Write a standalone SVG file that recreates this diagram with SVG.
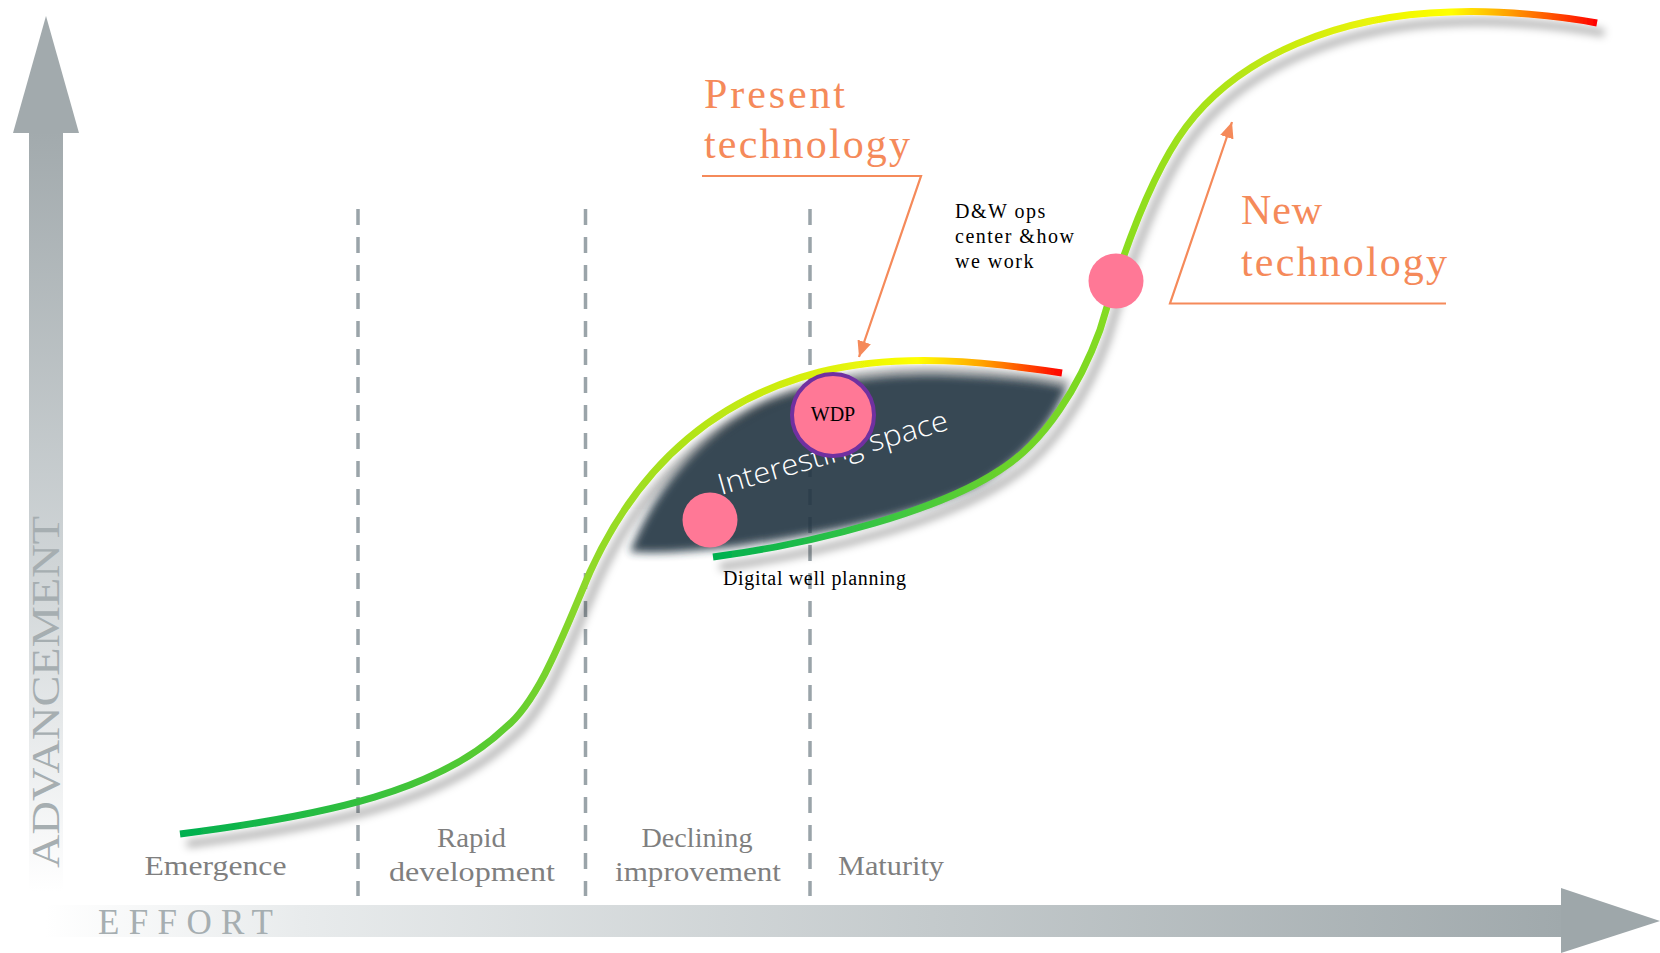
<svg xmlns="http://www.w3.org/2000/svg" width="1660" height="953" viewBox="0 0 1660 953">
<defs>
<style>
.phase{font-family:"Liberation Serif","Times New Roman",serif;font-size:28px;fill:#7f7f7f}
.axis{font-family:"Liberation Serif","Times New Roman",serif;fill:#a6aeb1}
.tech{font-family:"Liberation Serif","Times New Roman",serif;font-size:42px;fill:#f58a5a}
.note{font-family:"Liberation Serif","Times New Roman",serif;font-size:20px;fill:#000;letter-spacing:1.5px}
.dash{stroke:#9aa4a9;stroke-width:3.5;stroke-dasharray:16 12;fill:none}
.conn{stroke:#f58a5a;stroke-width:2.2;fill:none}
.dot{fill:#ff7896}
.curve{fill:none;stroke-width:7;filter:url(#sh)}
</style>
<linearGradient id="gh" gradientUnits="userSpaceOnUse" x1="45" y1="0" x2="1562" y2="0">
<stop offset="0" stop-color="#ffffff"/>
<stop offset="0.17" stop-color="#e8ebec"/>
<stop offset="1" stop-color="#a0a9ac"/>
</linearGradient>
<linearGradient id="gv" gradientUnits="userSpaceOnUse" x1="0" y1="132" x2="0" y2="892">
<stop offset="0" stop-color="#a2aaad"/>
<stop offset="0.6" stop-color="#d2d7d9"/>
<stop offset="1" stop-color="#ffffff"/>
</linearGradient>
<linearGradient id="g1" gradientUnits="userSpaceOnUse" x1="180" y1="0" x2="1063" y2="0">
<stop offset="0" stop-color="#00b050"/>
<stop offset="0.36" stop-color="#5ccc30"/>
<stop offset="0.46" stop-color="#8ed82a"/>
<stop offset="0.59" stop-color="#b5e515"/>
<stop offset="0.74" stop-color="#e0f20a"/>
<stop offset="0.835" stop-color="#ffff00"/>
<stop offset="0.91" stop-color="#ffa000"/>
<stop offset="1" stop-color="#ff0000"/>
</linearGradient>
<linearGradient id="g2" gradientUnits="userSpaceOnUse" x1="713" y1="0" x2="1597" y2="0">
<stop offset="0" stop-color="#00b050"/>
<stop offset="0.21" stop-color="#40c840"/>
<stop offset="0.33" stop-color="#6ad22a"/>
<stop offset="0.46" stop-color="#88dc20"/>
<stop offset="0.58" stop-color="#b0e418"/>
<stop offset="0.73" stop-color="#e6f208"/>
<stop offset="0.835" stop-color="#ffff00"/>
<stop offset="0.9" stop-color="#ffa000"/>
<stop offset="1" stop-color="#ff0000"/>
</linearGradient>
<filter id="sh" x="-10%" y="-10%" width="130%" height="140%">
<feDropShadow dx="7" dy="10" stdDeviation="4" flood-color="#000" flood-opacity="0.33"/>
</filter>
<filter id="blur" x="-10%" y="-20%" width="120%" height="140%">
<feGaussianBlur stdDeviation="4"/>
</filter>
<marker id="ah" markerUnits="userSpaceOnUse" markerWidth="16" markerHeight="14" refX="16" refY="7" orient="auto">
<path d="M0,0 L16,7 L0,14 z" fill="#f58a5a"/>
</marker>
</defs>

<g id="axis-advancement">
<rect x="29" y="132" width="34" height="760" fill="url(#gv)"/>
<polygon points="13,133 46,16 79,133" fill="#a2aaad"/>
<text class="axis" font-size="40" transform="translate(58.5,868) rotate(-90)" textLength="352" lengthAdjust="spacingAndGlyphs">ADVANCEMENT</text>
</g>
<g id="axis-effort">
<rect x="45" y="905" width="1517" height="32" fill="url(#gh)"/>
<polygon points="1561,888 1660,921 1561,953" fill="#9ea7aa"/>
<text class="axis" font-size="35" x="98" y="934" textLength="175" lengthAdjust="spacing">EFFORT</text>
</g>

<g id="phase-dividers">
<line class="dash" x1="358" y1="209" x2="358" y2="896"/>
<line class="dash" x1="585.5" y1="209" x2="585.5" y2="896"/>
<line class="dash" x1="810" y1="209" x2="810" y2="896"/>
</g>

<g id="interesting-space">
<path d="M630,552 C650,500 690,440 760,405 C820,378 900,372 960,375 C1010,377 1050,382 1067,387 C1050,430 1020,460 980,485 C920,515 820,535 740,546 C700,551 660,554 630,552 Z" fill="#233643" opacity="0.9" filter="url(#blur)"/>
</g>

<g id="connectors">
<path id="present-curve" class="curve" stroke="url(#g1)" d="M180,834 C330,815 440,790 505,728 C540,700 565,630 590,572 C625,495 690,405 820,372 C900,352 990,362 1062,373"/>
<path id="new-curve" class="curve" stroke="url(#g2)" d="M713,557 C820,543 940,510 1000,470 C1045,442 1080,385 1100,330 C1120,262 1150,175 1186,127 C1240,55 1340,15 1451,12 C1500,10 1560,16 1597,23"/>
<polyline class="conn" points="702,176 921,176 859,357" marker-end="url(#ah)"/>
<polyline class="conn" points="1446,303.5 1170,303.5 1232,122" marker-end="url(#ah)"/>
</g>

<g id="interesting-label">
<text transform="translate(721,495) rotate(-16)" font-family="'Open Sans',Lato,sans-serif" font-weight="300" font-size="29" fill="#ffffff" textLength="238" lengthAdjust="spacingAndGlyphs">Interesting space</text>
</g>

<g id="node-dwp">
<circle class="dot" cx="710" cy="520" r="27.5"/>
<text class="note" x="723" y="585" font-size="19" style="letter-spacing:0" textLength="183" lengthAdjust="spacing">Digital well planning</text>
</g>

<g id="node-wdp">
<circle cx="833" cy="415" r="41" fill="#ff7896" stroke="#7030a0" stroke-width="4"/>
<text x="833" y="421" text-anchor="middle" font-family="'Liberation Serif','Times New Roman',serif" font-size="20" fill="#000">WDP</text>
</g>

<g id="node-dw-ops">
<circle class="dot" cx="1116" cy="281" r="27.5"/>
<text class="note" x="955" y="218">D&amp;W ops</text>
<text class="note" x="955" y="243">center &amp;how</text>
<text class="note" x="955" y="268">we work</text>
</g>

<g id="label-present">
<text class="tech" x="704" y="108" textLength="141" lengthAdjust="spacing">Present</text>
<text class="tech" x="704" y="158" textLength="206" lengthAdjust="spacing">technology</text>
</g>

<g id="label-new">
<text class="tech" x="1241" y="224" textLength="81" lengthAdjust="spacing">New</text>
<text class="tech" x="1241" y="276" textLength="206" lengthAdjust="spacing">technology</text>
</g>

<g id="phase-labels">
<text class="phase" x="144.5" y="875" textLength="142" lengthAdjust="spacingAndGlyphs">Emergence</text>
<text class="phase" x="437" y="847" textLength="69" lengthAdjust="spacingAndGlyphs">Rapid</text>
<text class="phase" x="389" y="881" textLength="166" lengthAdjust="spacingAndGlyphs">development</text>
<text class="phase" x="641.5" y="847" textLength="111" lengthAdjust="spacingAndGlyphs">Declining</text>
<text class="phase" x="615" y="881" textLength="166" lengthAdjust="spacingAndGlyphs">improvement</text>
<text class="phase" x="838" y="875" textLength="106" lengthAdjust="spacingAndGlyphs">Maturity</text>
</g>
</svg>
